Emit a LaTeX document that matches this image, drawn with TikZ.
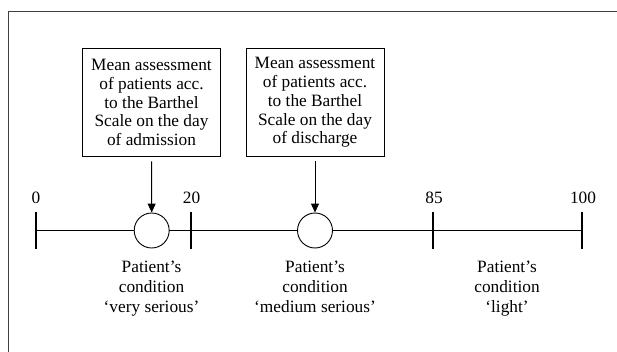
\documentclass[tikz,border=0pt]{standalone}
\usepackage{fontspec}
\setmainfont{Liberation Serif}
\usetikzlibrary{arrows.meta}
\begin{document}
\begin{tikzpicture}[x=1pt,y=1pt,
  txt/.style={font=\fontsize{17.3}{18.75}\selectfont, align=center, inner sep=0pt},
  infobox/.style={txt, draw, line width=0.8pt, minimum width=138pt, minimum height=108pt},
  marker/.style={circle, draw, fill=white, line width=0.9pt, minimum size=35pt, inner sep=0pt},
  axis/.style={line width=1.1pt},
  pointer/.style={line width=1pt, -{Triangle[length=9pt,width=8pt]}},
  frame/.style={line width=0.8pt, draw=black!75},
  cond/.style={font=\fontsize{17.3}{20}\selectfont, align=center, inner sep=0pt, anchor=base}
]
\useasboundingbox (0,0) rectangle (617,-352);
% frame
\coordinate (fbl) at (8,-352);
\coordinate (ftl) at (8,-11);
\coordinate (ftr) at (617,-11);
\draw[frame] (fbl) -- (ftl) -- (ftr);
% ticks
\coordinate (t0) at (36,-230.5);
\coordinate (t20) at (191,-230.5);
\coordinate (t85) at (433,-230.5);
\coordinate (t100) at (582,-230.5);
\draw[axis] (t0) -- (t100);
\foreach \t in {t0,t20,t85,t100}{
  \draw[axis] ([yshift=18.5pt]\t) -- ([yshift=-18.5pt]\t);
}
% tick labels
\node[txt, anchor=base] (l0) at (36,-203.5) {0};
\node[txt, anchor=base] (l20) at (191.5,-203.5) {20};
\node[txt, anchor=base] (l85) at (434,-203.5) {85};
\node[txt, anchor=base] (l100) at (583,-203.5) {100};
% markers
\node[marker] (c1) at (151.7,-230.5) {};
\node[marker] (c2) at (315,-230.5) {};
% boxes
\node[infobox] (b1) at (151.5,-102.5) {Mean assessment\\of patients acc.\\to the Barthel\\Scale on the day\\of admission};
\node[infobox] (b2) at (315,-102.5) {Mean assessment\\of patients acc.\\to the Barthel\\Scale on the day\\of discharge};
\draw[pointer] ([yshift=-4.5pt]b1.south) -- (c1.north);
\draw[pointer] ([yshift=-4.5pt]b2.south) -- (c2.north);
% conditions (base = baseline of last line)
\node[cond] (d1) at (151.5,-312) {Patient’s\\condition\\‘very serious’};
\node[cond] (d2) at (315,-312) {Patient’s\\condition\\‘medium serious’};
\node[cond] (d3) at (507,-312) {Patient’s\\condition\\‘light’};
\end{tikzpicture}
\end{document}
